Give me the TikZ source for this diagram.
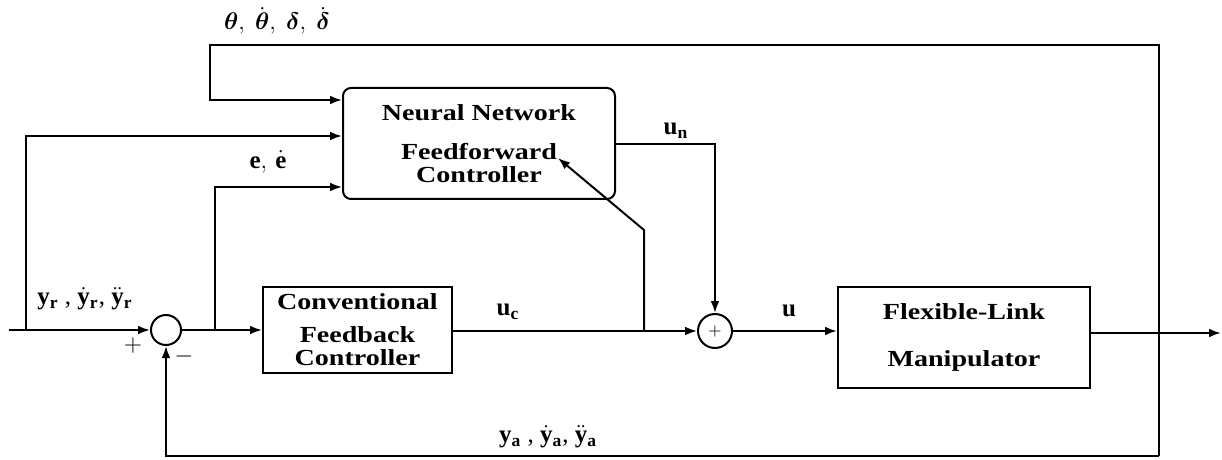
\documentclass[tikz,border=0pt]{standalone}
\usepackage{amsmath}
\usepackage{fontspec}
\setmainfont{Liberation Serif}
\newfontfamily\blkfont[FakeStretch=1.22]{Liberation Serif}
\usetikzlibrary{arrows.meta,calc}

\tikzset{
  wire/.style={line width=1pt},
  fwd/.style={wire,-{Latex[length=6pt,width=4.4pt]}},
  blk/.style={draw,wire,align=center,inner sep=0pt,
    font=\blkfont\bfseries\fontsize{11.5}{11.5}\selectfont},
  sumnode/.style={draw,wire,circle,inner sep=0pt},
  lbl/.style={font=\fontsize{12.5}{14}\selectfont,inner sep=1pt},
}

\begin{document}
\begin{tikzpicture}[x=0.5pt,y=-0.5pt]
\useasboundingbox (0,0) rectangle (1222,460);

% blocks
\node[blk,rounded corners=4pt,minimum width=136pt,minimum height=55.5pt] (nn) at (479,143.5)
  {Neural Network\\[8pt]Feedforward\\Controller};
\node[blk,minimum width=94.5pt,minimum height=43pt] (cfc) at (357.5,330)
  {Conventional\\[5pt]Feedback\\Controller};
\node[blk,minimum width=126pt,minimum height=50.5pt] (flm) at (964,337.5)
  {Flexible-Link\\[12pt]Manipulator};

% summing junctions
\node[sumnode,minimum size=15pt] (sum1) at (166,330) {};
\node[sumnode,minimum size=17pt,font=\fontsize{8}{8}\selectfont] (sum2) at (715,331) {$+$};

% branch points
\coordinate (in) at (9,330);
\coordinate (jr) at (26,330);
\coordinate (je) at (215,330);
\coordinate (jn) at (644,331);
\coordinate (bend) at (644,230);
\coordinate (tip) at (558,158);
\coordinate (jo) at (1159,333);
\coordinate (out) at (1221,333);
\coordinate (tr) at (1159,45);
\coordinate (tl) at (210,45);
\coordinate (br) at (1159,456);

% forward path
\draw[fwd] (in) -- (sum1.west);
\draw[fwd] (sum1.east) -- (sum1.east -| cfc.west);
\draw[fwd] (cfc.east |- sum2) -- (sum2.west);
\draw[fwd] (sum2.east) -- (sum2 -| flm.west);
\draw[fwd] (flm.east |- jo) -- (out);

% inputs of the neural network
\draw[fwd] (br) -- (tr) -- (tl) |- (nn.west |- 0,100);
\draw[fwd] (jr) |- (nn.west |- 0,136);
\draw[fwd] (je) |- (nn.west |- 0,187);
\draw[fwd] (jn) -- (bend) -- (tip);
\draw[fwd] (nn.east |- 0,144) -| (sum2.north);

% feedback
\draw[fwd] (br) -| (sum1.south);

% labels
\node[lbl] (thlbl) at (277,21) {$\boldsymbol{\theta},\ \dot{\boldsymbol{\theta}},\ \boldsymbol{\delta},\ \dot{\boldsymbol{\delta}}$};
\node[lbl] (elbl) at (268,162) {$\mathbf{e},\,\dot{\mathbf{e}}$};
\node[lbl] (yrlbl) at (85,299) {$\mathbf{y}_{\mathbf{r}}$ , $\dot{\mathbf{y}}_{\mathbf{r}}$, $\ddot{\mathbf{y}}_{\mathbf{r}}$};
\node[lbl] (yalbl) at (548,437) {$\mathbf{y}_{\mathbf{a}}$ , $\dot{\mathbf{y}}_{\mathbf{a}}$, $\ddot{\mathbf{y}}_{\mathbf{a}}$};
\node[lbl] (uclbl) at (508,312) {$\mathbf{u}_{\mathbf{c}}$};
\node[lbl] (unlbl) at (676,131) {$\mathbf{u}_{\mathbf{n}}$};
\node[lbl] (ulbl) at (789,311) {$\mathbf{u}$};
\node[lbl] (plbl) at (133,345) {$+$};
\node[lbl] (mlbl) at (184,356) {$-$};

\end{tikzpicture}
\end{document}
